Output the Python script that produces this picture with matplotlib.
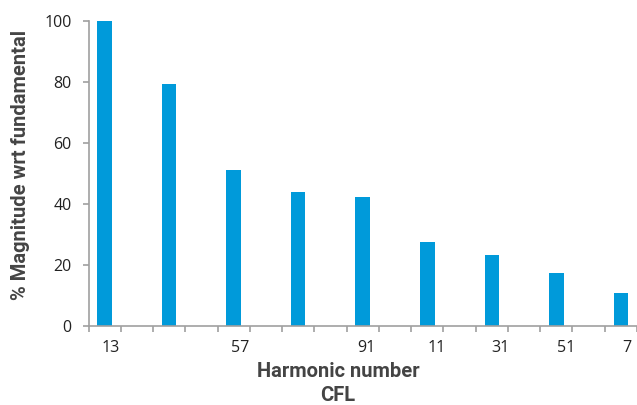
import matplotlib.pyplot as plt
import numpy as np

# odd harmonics only, even categories are empty
bar_pos = [1, 3, 5, 7, 9, 11, 13, 15, 17]
magnitude = [100, 79.3, 51.1, 43.9, 42.3, 27.5, 23.3, 17.4, 10.8]
label_pos = [1, 5, 9, 11, 13, 15, 17]
label_txt = ['13', '57', '91', '11', '31', '51', '7']
yticks = [0, 20, 40, 60, 80, 100]

fig = plt.figure(figsize=(6.37, 4.05), dpi=100)
ax = fig.add_axes([88.5/637, 1-325.7/405, 1-88.5/637, (325.7-20.7)/405])

ax.bar(bar_pos, magnitude, width=0.45, color='#009ADA')

ax.set_xlim(0.5, 0.5 + (637-88.5)/32.6)
ax.set_ylim(0, 100)
ax.set_yticks(yticks)
ax.set_yticklabels([str(v) for v in yticks], fontfamily='Open Sans', fontsize=11.5, color='#222222')

# tick marks on category boundaries, labels on minor ticks (slightly off-centre like the source)
shift = [0.2, 0.2, 0.1, 0.28, 0.27, 0.29, 0.17]
ax.set_xticks(np.arange(0.5, 18, 1))
ax.set_xticklabels([])
ax.set_xticks([p + s for p, s in zip(label_pos, shift)], minor=True)
ax.set_xticklabels(label_txt, minor=True, fontfamily='Open Sans', fontsize=11.5, color='#222222')
ax.tick_params(axis='x', which='minor', length=0, pad=10)
ax.tick_params(axis='x', which='major', length=4, color='#A0A0A0', width=1.2)
ax.tick_params(axis='y', length=4, color='#A0A0A0', width=1.2, pad=8)

for s in ['top', 'right']:
    ax.spines[s].set_visible(False)
for s in ['left', 'bottom']:
    ax.spines[s].set_color('#A0A0A0')
    ax.spines[s].set_linewidth(1.2)

title_kw = dict(fontfamily='Roboto', fontweight='bold', fontsize=14.5, color='#444444')
fig.text(338/637, 1-377/405, 'Harmonic number', ha='center', va='baseline', **title_kw)
fig.text(338/637, 1-401/405, 'CFL', ha='center', va='baseline', **title_kw)
fig.text(20.5/637, 1-165/405, '% Magnitude wrt fundamental', rotation=90,
         ha='center', va='center', **title_kw)

fig.savefig('out.png', dpi=100)
